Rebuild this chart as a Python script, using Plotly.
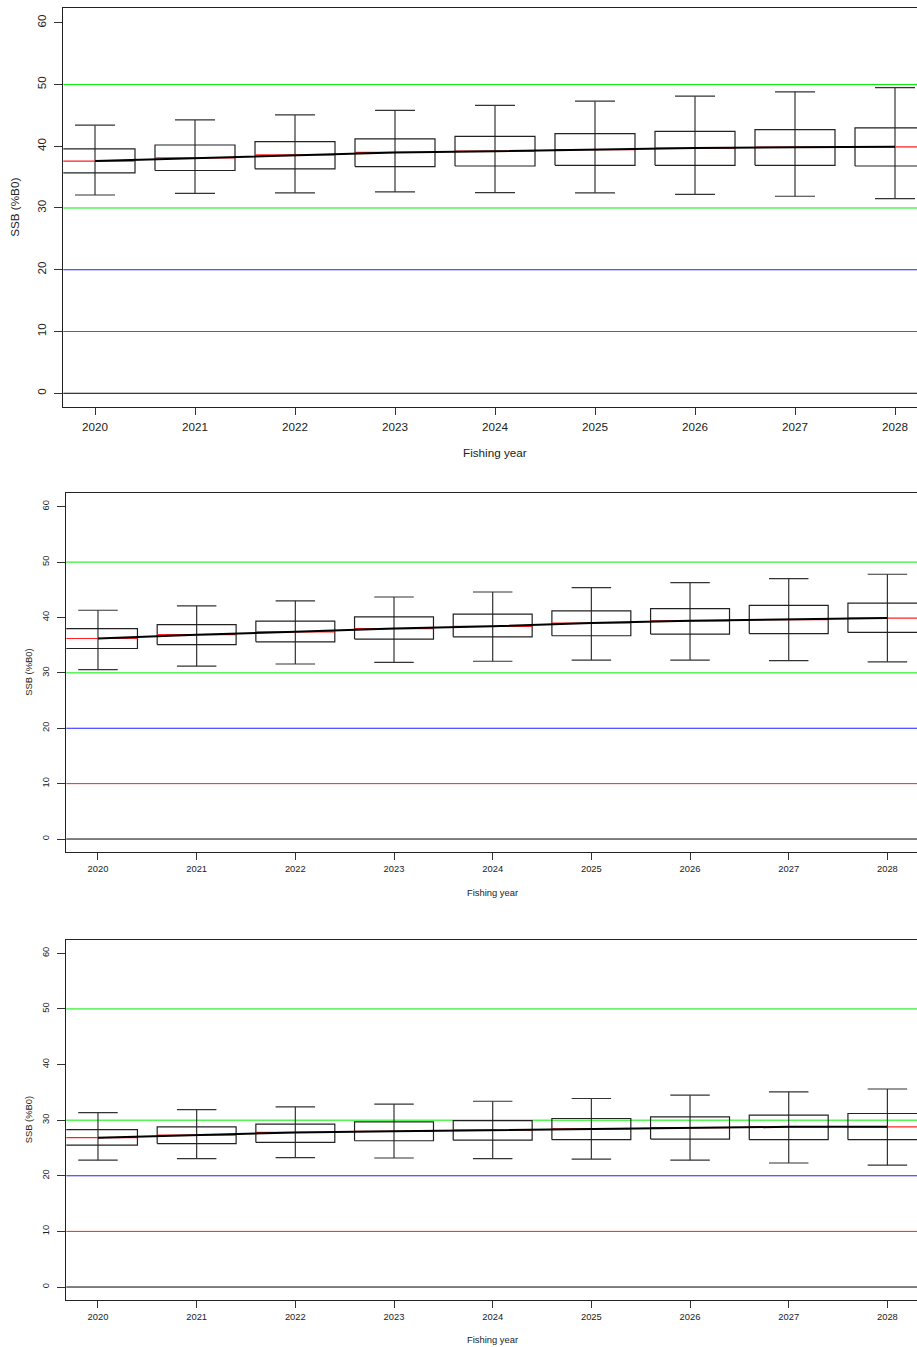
import plotly.graph_objects as go

W, H = 917, 1347

years = [2020, 2021, 2022, 2023, 2024, 2025, 2026, 2027, 2028]

# Panel 1
p1_lo  = [32.1, 32.35, 32.45, 32.6, 32.5, 32.45, 32.2, 31.9, 31.5]
p1_q1  = [35.7, 36.07, 36.34, 36.7, 36.8, 36.9, 36.9, 36.9, 36.8]
p1_med = [37.6, 38.1, 38.6, 39.0, 39.2, 39.46, 39.7, 39.85, 39.9]
p1_q3  = [39.57, 40.2, 40.76, 41.2, 41.6, 42.05, 42.4, 42.7, 42.96]
p1_hi  = [43.4, 44.25, 45.07, 45.8, 46.6, 47.3, 48.1, 48.8, 49.5]

# Panel 2
p2_lo  = [30.6, 31.2, 31.6, 31.9, 32.1, 32.3, 32.3, 32.2, 32.0]
p2_q1  = [34.4, 35.1, 35.6, 36.1, 36.5, 36.7, 37.0, 37.1, 37.3]
p2_med = [36.2, 36.9, 37.4, 38.0, 38.4, 39.0, 39.4, 39.6, 39.9]
p2_q3  = [38.0, 38.7, 39.35, 40.1, 40.6, 41.2, 41.6, 42.2, 42.6]
p2_hi  = [41.3, 42.1, 43.0, 43.7, 44.6, 45.4, 46.3, 47.0, 47.8]

# Panel 3
p3_lo  = [22.8, 23.1, 23.25, 23.2, 23.1, 23.0, 22.8, 22.3, 21.9]
p3_q1  = [25.5, 25.8, 26.0, 26.3, 26.4, 26.5, 26.6, 26.5, 26.5]
p3_med = [26.85, 27.3, 27.8, 28.0, 28.2, 28.45, 28.65, 28.8, 28.8]
p3_q3  = [28.3, 28.8, 29.3, 29.7, 29.9, 30.3, 30.6, 30.9, 31.2]
p3_hi  = [31.35, 31.9, 32.4, 32.9, 33.4, 33.9, 34.5, 35.1, 35.6]

ref_levels = [50, 30, 20, 10, 0]
ref_colors = ["#00ee00", "#00ee00", "#2020ff", "#ff2020", "#000000"]

y_ticks = [0, 10, 20, 30, 40, 50, 60]
y_title = "SSB (%B0)"
x_title = "Fishing year"

BOX_HALF = 0.4
CAP_HALF = 0.2

panels = [
    dict(lo=p1_lo, q1=p1_q1, med=p1_med, q3=p1_q3, hi=p1_hi,
         left=63.3, top=8.3, bottom=407.3, xr=[2019.683, 2028.22], yr=[-2.27, 62.33],
         fs=11.7, ytx=15, xty=452, xtx=495, xsd=2),
    dict(lo=p2_lo, q1=p2_q1, med=p2_med, q3=p2_q3, hi=p2_hi,
         left=66.3, top=493.3, bottom=851.7, xr=[2019.679, 2028.30], yr=[-2.29, 62.42],
         fs=9.4, ytx=28.3, xty=892, xtx=492.6, xsd=1),
    dict(lo=p3_lo, q1=p3_q1, med=p3_med, q3=p3_q3, hi=p3_hi,
         left=66.3, top=940.3, bottom=1299.7, xr=[2019.679, 2028.30], yr=[-2.28, 62.34],
         fs=9.4, ytx=28.3, xty=1339, xtx=492.6, xsd=1),
]

fig = go.Figure()
shapes = []
annotations = []
layout = {}

for i, p in enumerate(panels):
    n = "" if i == 0 else str(i + 1)
    xa, ya = "x" + n, "y" + n
    wx, wy, bx, by, mx, my = [], [], [], [], [], []
    for k, yr in enumerate(years):
        wx += [yr, yr, None, yr - CAP_HALF, yr + CAP_HALF, None, yr - CAP_HALF, yr + CAP_HALF, None]
        wy += [p["lo"][k], p["hi"][k], None, p["lo"][k], p["lo"][k], None, p["hi"][k], p["hi"][k], None]
        bx += [yr - BOX_HALF, yr + BOX_HALF, yr + BOX_HALF, yr - BOX_HALF, yr - BOX_HALF, None]
        by += [p["q1"][k], p["q1"][k], p["q3"][k], p["q3"][k], p["q1"][k], None]
        mx += [yr - BOX_HALF, yr + BOX_HALF, None]
        my += [p["med"][k], p["med"][k], None]
    for lvl, col in zip(ref_levels, ref_colors):
        shapes.append(dict(type="line", xref=xa + " domain", yref=ya, x0=0, x1=1,
                           y0=lvl, y1=lvl, line=dict(color=col, width=1), layer="below"))
    fig.add_trace(go.Scatter(x=wx, y=wy, mode="lines", line=dict(color="#333333", width=1.2),
                             xaxis=xa, yaxis=ya, showlegend=False, hoverinfo="skip"))
    fig.add_trace(go.Scatter(x=bx, y=by, mode="lines", line=dict(color="#222222", width=1.2),
                             xaxis=xa, yaxis=ya, showlegend=False, hoverinfo="skip"))
    fig.add_trace(go.Scatter(x=mx, y=my, mode="lines", line=dict(color="#ff2020", width=1.2),
                             xaxis=xa, yaxis=ya, showlegend=False, hoverinfo="skip"))
    fig.add_trace(go.Scatter(x=years, y=p["med"], mode="lines", line=dict(color="#000000", width=2),
                             xaxis=xa, yaxis=ya, showlegend=False, hoverinfo="skip"))

    font = dict(family="Liberation Sans, Arial, sans-serif", size=p["fs"], color="#222222")
    layout["xaxis" + n] = dict(
        domain=[p["left"] / W, 1], range=p["xr"], anchor=ya,
        tickmode="array", tickvals=years, ticktext=[str(y) for y in years],
        ticks="outside", ticklen=7, tickwidth=1, tickcolor="#333333",
        showline=True, linecolor="#222222", linewidth=1.2, mirror=True,
        showgrid=False, zeroline=False, tickfont=font, ticklabelstandoff=p["xsd"],
    )
    layout["yaxis" + n] = dict(
        domain=[1 - p["bottom"] / H, 1 - p["top"] / H], range=p["yr"], anchor=xa,
        tickmode="array", tickvals=y_ticks, ticktext=[str(t) for t in y_ticks],
        ticks="outside", ticklen=8, tickwidth=1, tickcolor="#333333", tickangle=-90,
        showline=True, linecolor="#222222", linewidth=1.2, mirror=False,
        showgrid=False, zeroline=False, tickfont=font, ticklabelstandoff=4,
    )
    annotations.append(dict(text=y_title, xref="paper", yref="paper",
                            x=p["ytx"] / W, y=1 - ((p["top"] + p["bottom"]) / 2) / H,
                            textangle=-90, showarrow=False, xanchor="center", yanchor="middle",
                            font=font))
    annotations.append(dict(text=x_title, xref="paper", yref="paper",
                            x=p["xtx"] / W, y=1 - p["xty"] / H,
                            showarrow=False, xanchor="center", yanchor="middle", font=font))

fig.update_layout(
    width=W, height=H, margin=dict(l=0, r=0, t=0, b=0),
    paper_bgcolor="white", plot_bgcolor="white",
    shapes=shapes, annotations=annotations, showlegend=False,
    **layout,
)

fig.write_html("out.html")
